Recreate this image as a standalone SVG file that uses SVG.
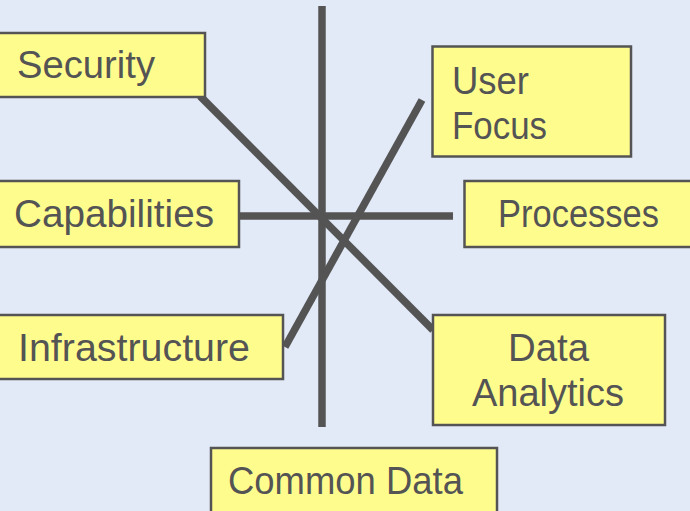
<svg xmlns="http://www.w3.org/2000/svg" width="690" height="511" viewBox="0 0 690 511">
<style>
.box{fill:#FFFC8E;stroke:#545454;stroke-width:2.5}
.t{font-family:"Liberation Sans",Arial,sans-serif;font-size:38px;fill:#545454}
.ln{stroke:#545454;stroke-width:7.5;fill:none}
</style>
<rect width="690" height="511" fill="#E2E9F7"/>
<g id="connectors">
<line class="ln" x1="322" y1="6" x2="322" y2="427"/>
<line class="ln" x1="239" y1="216" x2="453" y2="216"/>
<line class="ln" x1="200" y1="96" x2="433" y2="330"/>
<line class="ln" x1="422" y1="100" x2="285" y2="347"/>
</g>
<g id="security"><rect class="box" x="-3" y="33" width="208" height="64"/><text class="t" x="17" y="78" textLength="138" lengthAdjust="spacingAndGlyphs">Security</text></g>
<g id="userfocus"><rect class="box" x="432.5" y="46.5" width="198.5" height="110"/><text class="t" x="452" y="94" textLength="77" lengthAdjust="spacingAndGlyphs">User</text><text class="t" x="452" y="139" textLength="95" lengthAdjust="spacingAndGlyphs">Focus</text></g>
<g id="capabilities"><rect class="box" x="-3" y="181" width="242" height="66"/><text class="t" x="14" y="227" textLength="200" lengthAdjust="spacingAndGlyphs">Capabilities</text></g>
<g id="processes"><rect class="box" x="464.5" y="181" width="230" height="66"/><text class="t" x="498" y="227" textLength="161" lengthAdjust="spacingAndGlyphs">Processes</text></g>
<g id="infrastructure"><rect class="box" x="-3" y="315" width="286" height="64"/><text class="t" x="18" y="361" textLength="232" lengthAdjust="spacingAndGlyphs">Infrastructure</text></g>
<g id="dataanalytics"><rect class="box" x="433" y="315" width="232" height="110"/><text class="t" x="508" y="361" textLength="81" lengthAdjust="spacingAndGlyphs">Data</text><text class="t" x="472" y="406" textLength="152" lengthAdjust="spacingAndGlyphs">Analytics</text></g>
<g id="commondata"><rect class="box" x="211" y="448" width="286" height="70"/><text class="t" x="228" y="494" textLength="235" lengthAdjust="spacingAndGlyphs">Common Data</text></g>
</svg>
